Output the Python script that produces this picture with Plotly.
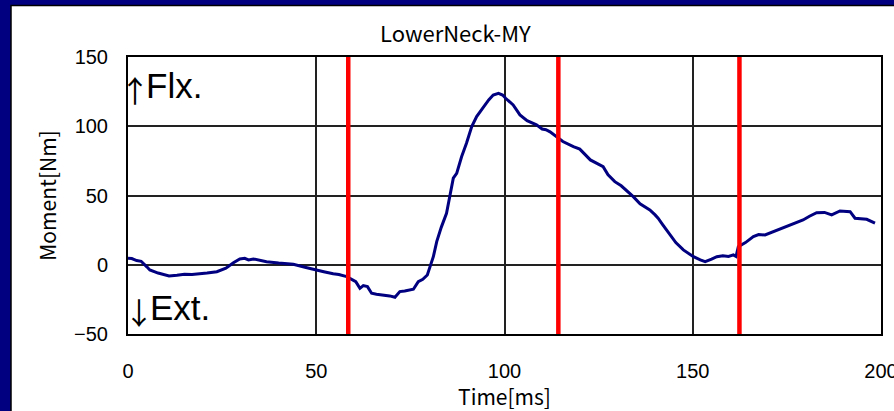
import plotly.graph_objects as go

# ---- data ----
time_ms = [0, 1, 2.3, 3.5, 5, 5.8, 8, 10.9, 13, 15, 17, 19.1, 21, 23.6, 26, 28, 29.7, 31, 32, 33.3,
           35, 36.8, 40, 43.9, 47, 50.1, 52, 54.5, 56, 58.1, 59.2, 60.5, 61.6, 62.5, 63.6, 64.7,
           66, 67.8, 69.5, 70.9, 72.2, 73.5, 75.8, 77.1, 78.3, 79.5, 80.3, 81.1, 82, 83.2, 84.6,
           85.6, 86.4, 87.3, 88.6, 89.9, 91.3, 92.6, 94.4, 95.8, 97, 98.4, 99.5, 100.3, 102.3,
           104.1, 106, 108.5, 110, 111, 112.1, 113.9, 115.5, 118.3, 120, 122.8, 124.5, 126.2,
           127.5, 129.3, 131, 134.2, 136, 138.6, 140, 140.8, 142, 143.9, 145.5, 147.5, 150.2,
           152, 153.3, 155, 156.4, 158, 159.5, 160.8, 161.5, 162.1, 164, 166.1, 167.5, 169.2,
           172, 175.8, 177.5, 179.3, 181, 182.9, 185, 186.9, 189.1, 191.8, 193.1, 196.2, 198.4]
moment_nm = [4.7, 4.5, 3.0, 2.5, -1.5, -3.8, -6.0, -8.1, -7.5, -6.8, -7.0, -6.6, -6.0, -5.0, -2.5,
             1.5, 4.2, 4.6, 3.5, 4.2, 3.0, 2.2, 1.2, 0.3, -1.8, -3.5, -5.0, -6.5, -7.0, -8.6, -10.0,
             -12.2, -17.0, -15.0, -15.8, -20.6, -21.3, -21.8, -22.5, -23.5, -19.4, -19.0, -17.7,
             -12.2, -10.5, -7.4, -1.4, 5.8, 16.7, 27.0, 37.2, 50.0, 62.5, 66.0, 78.0, 87.7, 99.7,
             107.0, 114.0, 119.0, 122.5, 123.8, 122.5, 120.2, 115.4, 108.2, 104.0, 101.0, 98.0,
             97.5, 96.0, 92.5, 89.0, 85.3, 83.5, 75.7, 73.0, 70.8, 65.0, 60.0, 57.0, 49.2, 44.0,
             39.6, 36.0, 33.6, 29.0, 21.5, 16.0, 10.7, 5.8, 3.5, 2.2, 4.0, 5.8, 6.5, 6.0, 7.1,
             6.0, 13.0, 16.0, 20.3, 21.8, 21.5, 24.5, 28.7, 30.0, 32.3, 35.0, 37.6, 37.8, 36.0,
             38.8, 38.3, 33.6, 32.8, 30.0]
event_times = [58.5, 114.3, 162.4]
x_ticks = [0, 50, 100, 150, 200]
y_ticks = [-50, 0, 50, 100, 150]
y_tick_text = ["−50", "0", "50", "100", "150"]
title_text = "LowerNeck-MY"
x_title = "Time[ms]"
y_title = "Moment[Nm]"
flex_arrow, flex_word = "↑", "Flx."
ext_arrow, ext_word = "↓", "Ext."

NAVY = "#000080"
W, H = 894, 411
# plot area in window pixels: left 128, right 881, top 57, bottom 334
L, T = 128, 57
R, B = W - 881, H - 334
pw, ph = W - L - R, H - T - B

def px2paper_x(px):
    return (px - L) / pw

def py2paper_y(py):
    return (H - B - py) / ph

fig = go.Figure()

fig.add_trace(go.Scatter(
    x=time_ms, y=moment_nm, mode="lines",
    line=dict(color=NAVY, width=3), showlegend=False, hoverinfo="skip"))

for t in event_times:
    fig.add_shape(type="line", xref="x", yref="paper", x0=t, x1=t, y0=0, y1=1,
                  line=dict(color="#ff0000", width=4.5), layer="above")

# white panel with black edge on navy background
fig.add_shape(type="rect", xref="paper", yref="paper",
              x0=px2paper_x(11), x1=px2paper_x(W + 30),
              y0=py2paper_y(H + 30), y1=py2paper_y(5.5),
              fillcolor="white", line=dict(color="black", width=1.5), layer="below")

arial = "Liberation Sans, Arial, sans-serif"
goth = "Noto Sans CJK JP, sans-serif"
tick_font = dict(family=arial, size=20, color="black")

def ann(text, x, y, family, size, xanchor="left", width=None):
    d = dict(text=text, xref="paper", yref="paper", x=px2paper_x(x), y=py2paper_y(y),
             xanchor=xanchor, yanchor="middle", showarrow=False,
             font=dict(family=family, size=size, color="black"))
    if width is not None:
        d["width"] = width
    return d

fig.update_layout(
    width=W, height=H,
    paper_bgcolor=NAVY, plot_bgcolor="white",
    margin=dict(l=L, r=R, t=T, b=B, autoexpand=False),
    showlegend=False,
    xaxis=dict(range=[0, 200], tickvals=x_ticks, ticktext=[str(v) for v in x_ticks],
               showgrid=True, gridcolor="#222222", gridwidth=1.5, zeroline=False,
               showline=True, linecolor="black", linewidth=2, mirror=True,
               ticks="", tickfont=tick_font, ticklabelstandoff=18,
               ticklabeloverflow="allow", automargin=False,
               title=dict(text=x_title, font=dict(family=goth, size=21, color="black"),
                          standoff=8)),
    yaxis=dict(range=[-50, 150], tickvals=y_ticks, ticktext=y_tick_text,
               showgrid=True, gridcolor="#222222", gridwidth=1.5, zeroline=False,
               showline=True, linecolor="black", linewidth=2, mirror=True,
               ticks="", tickfont=tick_font, ticklabelstandoff=14,
               ticklabeloverflow="allow", automargin=False,
               title=dict(text=y_title, font=dict(family=goth, size=21, color="black"),
                          standoff=12)),
    annotations=[
        ann(title_text, 455, 32, goth, 22, "center"),
        ann(flex_arrow, 135, 89, goth, 30, "center", width=16),
        ann(flex_word, 144, 85, arial, 35),
        ann(ext_arrow, 139, 311, goth, 30, "center", width=16),
        ann(ext_word, 148, 307, arial, 35),
    ],
)

fig.write_html(
    "out.html",
    config={"displayModeBar": False},
    post_script="document.body.style.margin='0';document.body.style.background='#000080';",
)
